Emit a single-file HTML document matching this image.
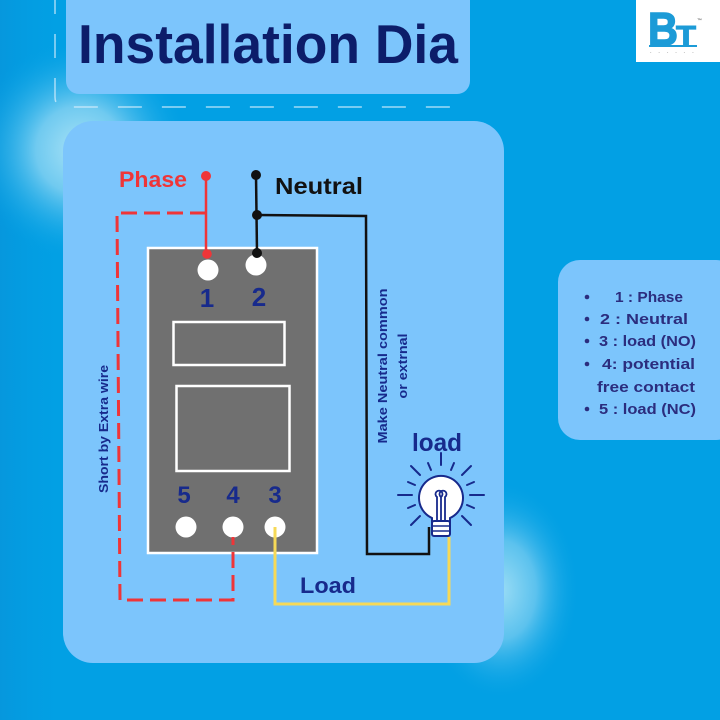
<!DOCTYPE html>
<html><head><meta charset="utf-8"><style>
html,body{margin:0;padding:0;width:720px;height:720px;overflow:hidden;background:#02a0e4;}
svg{display:block;}
text{font-family:"Liberation Sans",sans-serif;font-weight:bold;}
</style></head><body>
<svg width="720" height="720" viewBox="0 0 720 720" xmlns="http://www.w3.org/2000/svg">
<defs>
<radialGradient id="g1" cx="80" cy="150" r="110" gradientUnits="userSpaceOnUse">
<stop offset="0" stop-color="#a8e2f6"/><stop offset="0.4" stop-color="#70caf0"/><stop offset="1" stop-color="#02a0e4" stop-opacity="0"/>
</radialGradient>
<radialGradient id="g2" cx="0" cy="0" r="1" gradientUnits="userSpaceOnUse" gradientTransform="translate(500 590) scale(80 110)">
<stop offset="0" stop-color="#9adcf5"/><stop offset="0.45" stop-color="#5cc2ee"/><stop offset="1" stop-color="#02a0e4" stop-opacity="0"/>
</radialGradient>
<linearGradient id="g3" x1="0" y1="0" x2="1" y2="0">
<stop offset="0" stop-color="#0a8ed6"/><stop offset="1" stop-color="#02a0e4" stop-opacity="0"/>
</linearGradient>
</defs>
<rect width="720" height="720" fill="#02a0e4"/>
<rect x="0" y="0" width="70" height="720" fill="url(#g3)" opacity="0.5"/>
<rect width="720" height="720" fill="url(#g1)"/>
<rect width="720" height="720" fill="url(#g2)"/>

<!-- dashed outline behind title -->
<path d="M55 -10 L55 97 Q55 107 65 107 L450 107 Q460 107 460 97 L460 90" fill="none" stroke="#d6eefc" stroke-opacity="0.75" stroke-width="1.5" stroke-dasharray="24 20"/>

<!-- title box -->
<rect x="66" y="-20" width="404" height="114" rx="13" fill="#7cc5fc"/>
<text x="78" y="63" font-size="55" fill="#0c1d6a" textLength="380" lengthAdjust="spacingAndGlyphs">Installation Dia</text>

<!-- logo -->
<rect x="636" y="0" width="84" height="62" fill="#ffffff"/>
<text x="648" y="45" font-size="46" fill="#1c9bd7" stroke="#1c9bd7" stroke-width="1.5" textLength="30" lengthAdjust="spacingAndGlyphs">B</text>
<text x="676" y="45" font-size="28" fill="#1c9bd7" stroke="#1c9bd7" stroke-width="1" textLength="20" lengthAdjust="spacingAndGlyphs">T</text>
<rect x="649" y="45" width="48" height="2" fill="#1c9bd7"/>
<text x="697" y="22" font-size="5" fill="#777">™</text>
<text x="650" y="53" font-size="4" fill="#888" letter-spacing="3">- - - - - -</text>

<!-- main panel -->
<rect x="63" y="121" width="441" height="542" rx="30" fill="#7cc5fc"/>

<!-- legend panel -->
<rect x="558" y="260" width="180" height="180" rx="22" fill="#7cc5fc"/>
<g fill="#2b2d7e" font-size="15">
<circle cx="587" cy="297" r="2.3"/>
<circle cx="587" cy="319" r="2.3"/>
<circle cx="587" cy="341" r="2.3"/>
<circle cx="587" cy="364" r="2.3"/>
<circle cx="587" cy="409" r="2.3"/>
<text x="615" y="302" textLength="68" lengthAdjust="spacingAndGlyphs">1 : Phase</text>
<text x="600" y="324" textLength="88" lengthAdjust="spacingAndGlyphs">2 : Neutral</text>
<text x="599" y="346" textLength="97" lengthAdjust="spacingAndGlyphs">3 : load (NO)</text>
<text x="602" y="369" textLength="93" lengthAdjust="spacingAndGlyphs">4: potential</text>
<text x="597" y="392" textLength="98" lengthAdjust="spacingAndGlyphs">free contact</text>
<text x="599" y="414" textLength="97" lengthAdjust="spacingAndGlyphs">5 : load (NC)</text>
</g>

<!-- device -->
<rect x="148" y="248" width="169" height="305" fill="#707070" stroke="#ffffff" stroke-width="2.5"/>
<rect x="173.5" y="322" width="111" height="43" fill="none" stroke="#ffffff" stroke-width="2.5"/>
<rect x="176.5" y="386" width="113" height="85" fill="none" stroke="#ffffff" stroke-width="2.5"/>
<circle cx="208" cy="270" r="10.5" fill="#fff"/>
<circle cx="256" cy="265" r="10.5" fill="#fff"/>
<circle cx="186" cy="527" r="10.5" fill="#fff"/>
<circle cx="233" cy="527" r="10.5" fill="#fff"/>
<circle cx="275" cy="527" r="10.5" fill="#fff"/>
<g fill="#172a8c" font-size="26" text-anchor="middle">
<text x="207" y="307">1</text>
<text x="259" y="306">2</text>
</g>
<g fill="#172a8c" font-size="24" text-anchor="middle">
<text x="184" y="503">5</text>
<text x="233" y="503">4</text>
<text x="275" y="503">3</text>
</g>

<!-- phase wiring -->
<path d="M206 213 L117 213 L120 600 L233 600 L233 537" fill="none" stroke="#ef3538" stroke-width="3" stroke-dasharray="16 7"/>
<line x1="206" y1="176" x2="206" y2="254" stroke="#ef3538" stroke-width="2.5"/>
<circle cx="206" cy="176" r="5" fill="#ef3538"/>
<circle cx="207" cy="254" r="4.8" fill="#ef3538"/>
<text x="119" y="187" font-size="22" fill="#ef3538" textLength="68" lengthAdjust="spacingAndGlyphs">Phase</text>

<!-- neutral wiring -->
<line x1="256" y1="175" x2="257" y2="253" stroke="#111" stroke-width="2.5"/>
<path d="M257 215 L366 216 L367 554 L429 554 L429 527" fill="none" stroke="#111" stroke-width="2.5"/>
<circle cx="256" cy="175" r="5" fill="#111"/>
<circle cx="257" cy="215" r="5" fill="#111"/>
<circle cx="257" cy="253" r="5" fill="#111"/>
<text x="275" y="194" font-size="23" fill="#111" textLength="88" lengthAdjust="spacingAndGlyphs">Neutral</text>

<!-- load wiring -->
<path d="M275 527 L275 604 L449 604 L449 537" fill="none" stroke="#f6d957" stroke-width="3"/>
<text x="300" y="593" font-size="22" fill="#172a8c" textLength="56" lengthAdjust="spacingAndGlyphs">Load</text>

<!-- rotated labels -->
<g fill="#172a8c" font-size="13" text-anchor="middle">
<text transform="translate(108 429) rotate(-90)" textLength="128" lengthAdjust="spacingAndGlyphs">Short by Extra wire</text>
<text transform="translate(387 366) rotate(-90)" textLength="155" lengthAdjust="spacingAndGlyphs">Make Neutral common</text>
<text transform="translate(407 366) rotate(-90)" textLength="65" lengthAdjust="spacingAndGlyphs">or extrnal</text>
</g>

<!-- bulb -->
<text x="412" y="451" font-size="25" fill="#172a8c" textLength="50" lengthAdjust="spacingAndGlyphs">load</text>
<g stroke="#172a8c" stroke-width="2" stroke-linecap="round" fill="none">
<line x1="441" y1="453" x2="441" y2="465"/>
<line x1="428" y1="463" x2="431" y2="470"/>
<line x1="454" y1="463" x2="451" y2="470"/>
<line x1="411" y1="466" x2="420" y2="475"/>
<line x1="471" y1="466" x2="462" y2="475"/>
<line x1="408" y1="482" x2="415" y2="485"/>
<line x1="474" y1="482" x2="467" y2="485"/>
<line x1="398" y1="495" x2="412" y2="495"/>
<line x1="470" y1="495" x2="484" y2="495"/>
<line x1="408" y1="508" x2="415" y2="505"/>
<line x1="474" y1="508" x2="467" y2="505"/>
<line x1="411" y1="525" x2="420" y2="516"/>
<line x1="471" y1="525" x2="462" y2="516"/>
</g>
<path d="M432 518 A22 22 0 1 1 450 518 L450 522 L432 522 Z" fill="#fff" stroke="#172a8c" stroke-width="2"/>
<rect x="432" y="521" width="18" height="15" rx="2" fill="#fff" stroke="#172a8c" stroke-width="2"/>
<line x1="433" y1="526" x2="449" y2="526" stroke="#172a8c" stroke-width="1.5"/>
<line x1="433" y1="531" x2="449" y2="531" stroke="#172a8c" stroke-width="1.5"/>
<g stroke="#172a8c" stroke-width="1.8" fill="none">
<path d="M437 520 L437 497 A3.5 3.5 0 1 1 441 497 L441 520"/>
<path d="M441 497 A3.5 3.5 0 1 1 445 497 L445 520"/>
</g>
</svg>
</body></html>
